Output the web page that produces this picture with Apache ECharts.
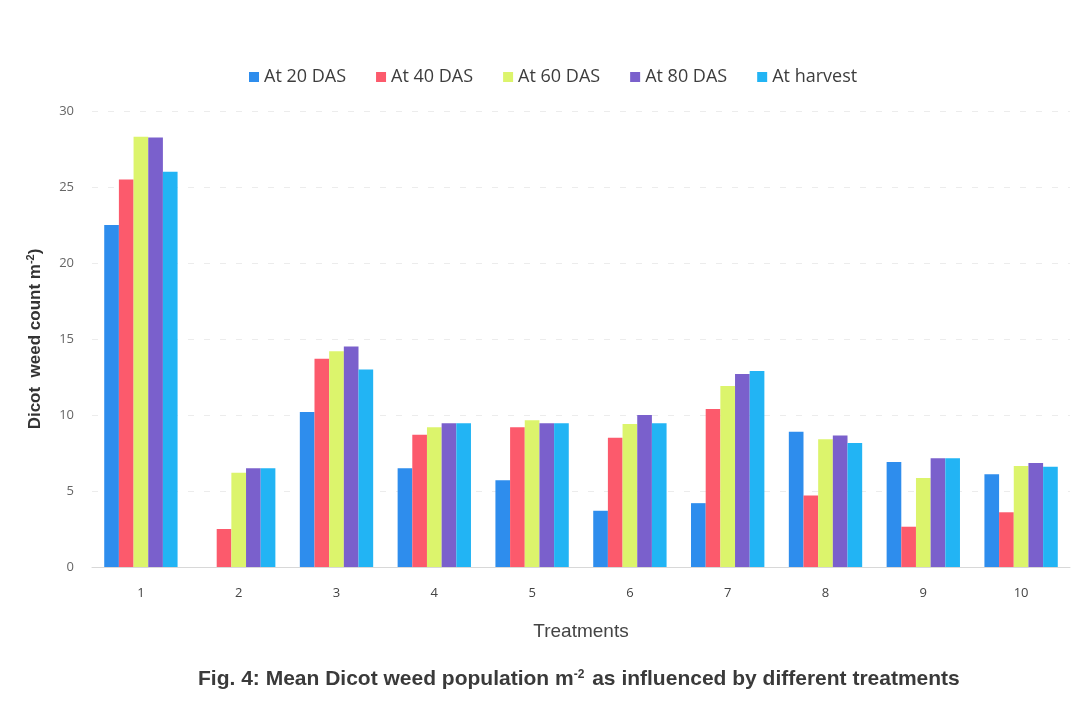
<!DOCTYPE html>
<html>
<head>
<meta charset="utf-8">
<script src="https://cdn.jsdelivr.net/npm/echarts@6/dist/echarts.min.js"></script>
<style>
  html, body { margin: 0; padding: 0; background: #ffffff; }
  #chart { width: 1084px; height: 704px; }
</style>
</head>
<body>
<div id="chart"></div>
<script>
// Treatments on the x axis
const treatments = ['1', '2', '3', '4', '5', '6', '7', '8', '9', '10'];

// Dicot weed count per m² at each observation stage
const at20 = [22.5, 0, 10.2, 6.5, 5.7, 3.7, 4.2, 8.9, 6.9, 6.1];
const at40 = [25.5, 2.5, 13.7, 8.7, 9.2, 8.5, 10.4, 4.7, 2.65, 3.6];
const at60 = [28.3, 6.2, 14.2, 9.2, 9.65, 9.4, 11.9, 8.4, 5.85, 6.65];
const at80 = [28.25, 6.5, 14.5, 9.45, 9.45, 10.0, 12.7, 8.65, 7.15, 6.85];
const atHarvest = [26.0, 6.5, 13.0, 9.45, 9.45, 9.45, 12.9, 8.15, 7.15, 6.6];

const seriesNames = ['At 20 DAS', 'At 40 DAS', 'At 60 DAS', 'At 80 DAS', 'At harvest'];
const seriesData = [at20, at40, at60, at80, atHarvest];
const colors = ['#2e8ded', '#fc5a6c', '#dcf46c', '#7a60cc', '#22b4f4'];

const chart = echarts.init(document.getElementById('chart'));

chart.setOption({
  backgroundColor: '#ffffff',
  color: colors,
  animation: false,
  textStyle: { fontFamily: '"Open Sans", sans-serif' },
  title: {
    text: '{t|Fig. 4: Mean Dicot weed population m}{s|-2}{t| as influenced by different treatments}',
    left: 193,
    top: 664,
    textStyle: {
      rich: {
        t: { fontFamily: '"Liberation Sans", Arial, sans-serif', fontSize: 21, fontWeight: 'bold', color: '#3a3a3a' },
        s: { fontFamily: '"Liberation Sans", Arial, sans-serif', fontSize: 12, color: '#3a3a3a', verticalAlign: 'top', padding: [0, 2, 9, 0] }
      }
    }
  },
  legend: {
    top: 63,
    left: 244,
    itemWidth: 10,
    itemHeight: 10,
    itemGap: 30,
    icon: 'rect',
    textStyle: { fontSize: 18, color: '#3d3d3d', fontFamily: '"Open Sans", sans-serif' },
    data: seriesNames
  },
  grid: { left: 92, right: 14, top: 111, bottom: 137 },
  xAxis: {
    type: 'category',
    data: treatments,
    name: 'Treatments',
    nameLocation: 'middle',
    nameGap: 55,
    nameTextStyle: { fontSize: 19, color: '#444', fontFamily: '"Liberation Sans", Arial, sans-serif' },
    axisLine: { lineStyle: { color: '#d8d8d8' } },
    axisTick: { show: false },
    axisLabel: { fontSize: 13, color: '#444', margin: 20 }
  },
  yAxis: {
    type: 'value',
    min: 0,
    max: 30,
    interval: 5,
    name: '{t|Dicot  weed count m}{s|-2}{t|)}',
    nameLocation: 'middle',
    nameGap: 47,
    nameRotate: 90,
    nameTextStyle: {
      rich: {
        t: { fontSize: 17, fontWeight: 'bold', color: '#333', fontFamily: '"Liberation Sans", Arial, sans-serif' },
        s: { fontSize: 11, fontWeight: 'bold', color: '#333', verticalAlign: 'top', padding: [0, 0, 9, 0], fontFamily: '"Liberation Sans", Arial, sans-serif' }
      }
    },
    axisLine: { show: false },
    axisTick: { show: false },
    axisLabel: { fontSize: 13, color: '#666', margin: 18 },
    splitLine: { lineStyle: { color: '#ececec', type: [6, 10] } }
  },
  series: seriesData.map((d, i) => ({
    name: seriesNames[i],
    type: 'bar',
    data: d,
    barGap: '0%',
    barCategoryGap: '25%'
  }))
});
</script>
</body>
</html>
